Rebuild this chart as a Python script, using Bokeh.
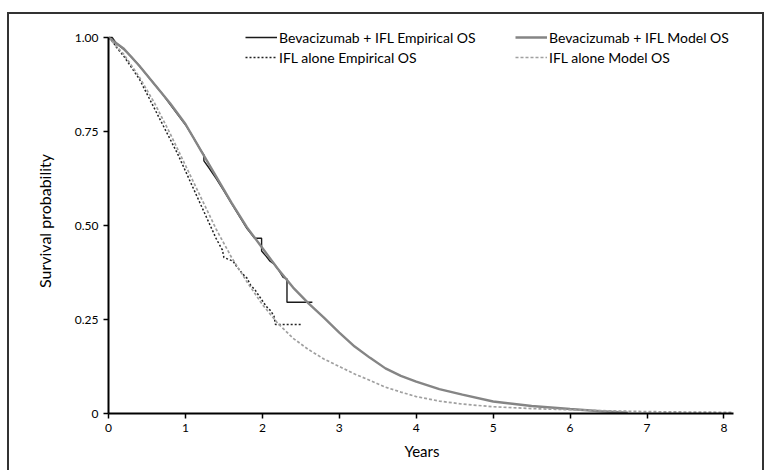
from bokeh.plotting import figure
from bokeh.models import Legend, LegendItem, FixedTicker
from bokeh.embed import file_html
from bokeh.resources import INLINE

# ---- data ----
bev_model_t = [0.0, 0.2, 0.4, 0.6, 0.8, 1.0, 1.2, 1.4, 1.6, 1.8, 2.0, 2.2, 2.4, 2.6, 2.8,
               3.0, 3.2, 3.4, 3.6, 3.8, 4.0, 4.3, 4.6, 5.0, 5.5, 6.0, 6.4, 6.75]
bev_model_s = [1.000, 0.970, 0.925, 0.875, 0.825, 0.770, 0.700, 0.630, 0.560, 0.495, 0.440,
               0.385, 0.335, 0.293, 0.255, 0.215, 0.178, 0.148, 0.120, 0.100, 0.085, 0.065,
               0.050, 0.032, 0.020, 0.012, 0.006, 0.002]

ifl_model_t = [0.0, 0.2, 0.4, 0.6, 0.8, 1.0, 1.2, 1.4, 1.6, 1.8, 2.0, 2.2, 2.4, 2.6, 2.8,
               3.0, 3.2, 3.4, 3.6, 3.8, 4.0, 4.3, 4.6, 5.0, 5.5, 6.0, 6.5, 7.0, 7.5, 8.1]
ifl_model_s = [1.000, 0.955, 0.895, 0.825, 0.745, 0.660, 0.575, 0.490, 0.415, 0.350, 0.290,
               0.240, 0.200, 0.170, 0.145, 0.125, 0.105, 0.088, 0.070, 0.057, 0.045, 0.033,
               0.025, 0.018, 0.013, 0.010, 0.007, 0.005, 0.004, 0.003]

# Kaplan-Meier style empirical curves (repeated times mark the vertical drops)
bev_emp_t = [0.00, 0.05, 0.10, 0.20, 0.30, 0.40, 0.50, 0.60, 0.70, 0.80, 0.90, 1.00, 1.10,
             1.20, 1.24, 1.24, 1.30, 1.40, 1.50, 1.60, 1.70, 1.80, 1.90, 1.99, 1.99, 2.05,
             2.10, 2.15, 2.20, 2.27, 2.32, 2.32, 2.65]
bev_emp_s = [1.000, 1.000, 0.985, 0.968, 0.948, 0.925, 0.900, 0.875, 0.850, 0.822, 0.795,
             0.768, 0.735, 0.700, 0.688, 0.672, 0.655, 0.625, 0.592, 0.558, 0.525, 0.492,
             0.466, 0.466, 0.432, 0.418, 0.405, 0.398, 0.385, 0.362, 0.358, 0.296, 0.296]

ifl_emp_t = [0.00, 0.05, 0.10, 0.20, 0.30, 0.40, 0.50, 0.60, 0.70, 0.80, 0.90, 1.00, 1.10,
             1.20, 1.30, 1.40, 1.48, 1.50, 1.62, 1.65, 1.75, 1.80, 1.85, 1.90, 1.95, 2.00,
             2.05, 2.10, 2.15, 2.17, 2.52]
ifl_emp_s = [1.000, 0.990, 0.975, 0.950, 0.920, 0.890, 0.850, 0.810, 0.770, 0.730, 0.690,
             0.645, 0.600, 0.555, 0.510, 0.465, 0.435, 0.415, 0.405, 0.395, 0.370, 0.360,
             0.340, 0.330, 0.315, 0.300, 0.285, 0.275, 0.260, 0.237, 0.237]

x_ticks = [0, 1, 2, 3, 4, 5, 6, 7, 8]
y_ticks = [0, 0.25, 0.5, 0.75, 1.0]
y_tick_labels = ["0", "0.25", "0.50", "0.75", "1.00"]

labels = ["Bevacizumab + IFL Empirical OS", "IFL alone Empirical OS",
          "Bevacizumab + IFL Model OS", "IFL alone Model OS"]

FONT = "Lato"

p = figure(width=753, height=456, output_backend="svg", toolbar_location=None,
           x_range=(0, 8.15), y_range=(0, 1.024),
           min_border_left=99, min_border_right=27, min_border_top=14, min_border_bottom=57)
p.margin = (14, 0, 0, 9)
p.styles = {"outline": "2px solid #333333"}
p.outline_line_color = None
p.xgrid.visible = False
p.ygrid.visible = False
p.background_fill_color = "white"
p.border_fill_color = "white"

for ax in (p.xaxis[0], p.yaxis[0]):
    ax.axis_line_color = "black"
    ax.axis_line_width = 2
    ax.major_tick_line_color = "black"
    ax.major_tick_line_width = 1.5
    ax.major_tick_out = 5
    ax.major_tick_in = 0
    ax.minor_tick_line_color = None
    ax.major_label_text_font = FONT
    ax.major_label_text_font_size = "12px"
    ax.major_label_text_color = "black"
    ax.axis_label_text_font = FONT
    ax.axis_label_text_font_style = "normal"
    ax.axis_label_text_color = "black"

p.xaxis.ticker = FixedTicker(ticks=x_ticks)
p.xaxis.bounds = (0, 8.12)
p.xaxis.axis_label = "Years"
p.xaxis.axis_label_text_font_size = "15px"
p.xaxis.major_label_standoff = 5
p.xaxis.axis_label_standoff = 7

p.yaxis.ticker = FixedTicker(ticks=y_ticks)
p.yaxis.major_label_overrides = {t: l for t, l in zip(y_ticks, y_tick_labels)}
p.yaxis.bounds = (0, 1.0)
p.yaxis.axis_label = "Survival probability"
p.yaxis.axis_label_text_font_size = "16px"
p.yaxis.major_label_standoff = 5
p.yaxis.axis_label_standoff = 18

# empirical curves drawn first, model curves on top of them
r_bev_emp = p.line(bev_emp_t, bev_emp_s, line_color="#1a1a1a", line_width=1.4)
r_ifl_emp = p.line(ifl_emp_t, ifl_emp_s, line_color="#222222", line_width=1.5, line_dash="2 2")
r_bev_model = p.line(bev_model_t, bev_model_s, line_color="#858585", line_width=2.4)
r_ifl_model = p.line(ifl_model_t, ifl_model_s, line_color="#a0a0a0", line_width=1.7, line_dash="3 2")

def make_legend(items, loc):
    return Legend(items=items, location=loc, orientation="vertical",
                  padding=0, margin=0, spacing=0,
                  border_line_color=None, background_fill_alpha=0,
                  glyph_width=32, glyph_height=20, label_height=20,
                  label_standoff=2,
                  label_text_font=FONT, label_text_font_size="14px",
                  label_text_color="black")

leg1 = make_legend([LegendItem(label=labels[0], renderers=[r_bev_emp]),
                    LegendItem(label=labels[1], renderers=[r_ifl_emp])], (137, 346))
leg2 = make_legend([LegendItem(label=labels[2], renderers=[r_bev_model]),
                    LegendItem(label=labels[3], renderers=[r_ifl_model])], (407, 346))
p.add_layout(leg1, "center")
p.add_layout(leg2, "center")

open("out.html", "w").write(file_html(p, INLINE))
